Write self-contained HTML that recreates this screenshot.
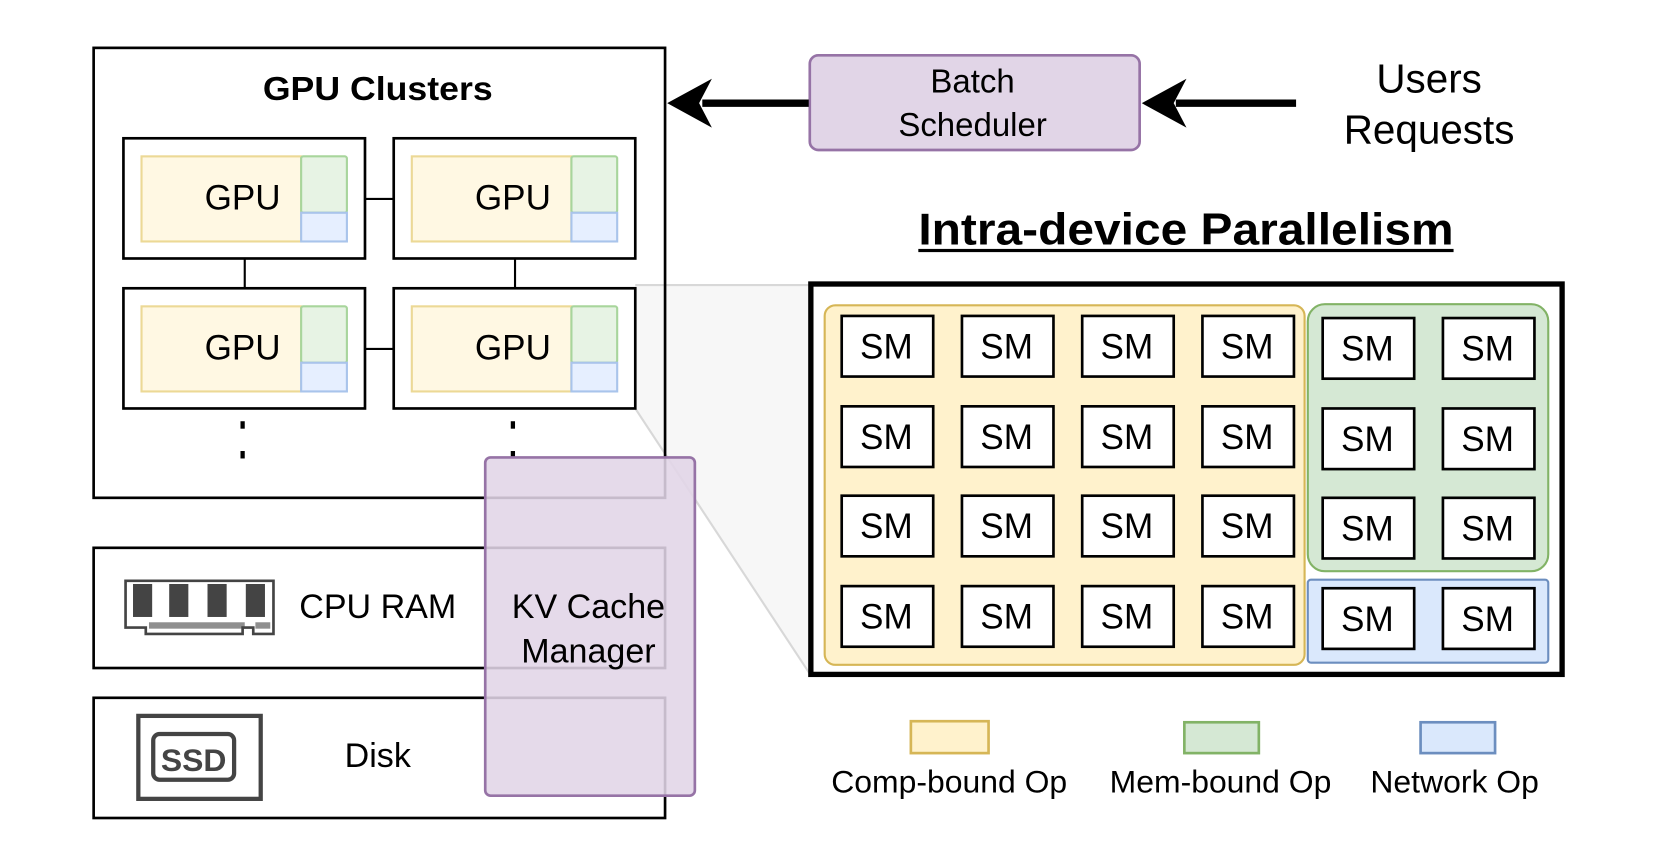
<!DOCTYPE html>
<html><head><meta charset="utf-8"><style>html,body{margin:0;padding:0;background:#fff}svg{display:block}text{font-family:"Liberation Sans",Arial,sans-serif}</style></head>
<body>
<svg width="1660" height="868" viewBox="0 0 1560 816" preserveAspectRatio="none" xmlns="http://www.w3.org/2000/svg">
<rect width="1560" height="816" fill="#fff"/>
<polygon points="597,268 762,268 762,635 597,384" fill="#f4f4f4" opacity="0.7"/>
<line x1="597" y1="268" x2="762" y2="268" stroke="#d8d8d8" stroke-width="2"/>
<line x1="597" y1="384" x2="762" y2="635" stroke="#d8d8d8" stroke-width="2"/>
<rect x="88" y="45" width="537" height="423" fill="none" stroke="#000" stroke-width="2.5"/>
<text x="247" y="94" font-size="31" font-weight="bold" textLength="216" lengthAdjust="spacingAndGlyphs">GPU Clusters</text>
<g stroke="#000" stroke-width="2">
<line x1="343" y1="187" x2="370" y2="187"/><line x1="343" y1="328" x2="370" y2="328"/>
<line x1="230" y1="243" x2="230" y2="271"/><line x1="484" y1="243" x2="484" y2="271"/>
</g>
<g id="g1">
<rect x="116" y="130" width="227" height="113" fill="#fff" stroke="#000" stroke-width="2.5"/>
<rect x="133" y="147" width="150" height="80" fill="#fff8e3" stroke="#ecd996" stroke-width="2"/>
<rect x="283" y="147" width="43" height="53" fill="#e7f3e4" stroke="#a8d59c" stroke-width="2" rx="2"/>
<rect x="283" y="200" width="43" height="27" fill="#e6efff" stroke="#a9c4eb" stroke-width="2"/>
<text x="228" y="197" font-size="33" text-anchor="middle">GPU</text>
</g>
<use href="#g1" x="254" y="0"/><use href="#g1" x="0" y="141"/><use href="#g1" x="254" y="141"/>
<g fill="#000"><rect x="226" y="396" width="4" height="7"/><rect x="226" y="424" width="4" height="7"/><rect x="480" y="396" width="4" height="7"/><rect x="480" y="424" width="4" height="7"/></g>
<rect x="88" y="515" width="537" height="113" fill="#fff" stroke="#000" stroke-width="2.5"/>
<rect x="88" y="656" width="537" height="113" fill="#fff" stroke="#000" stroke-width="2.5"/>
<path d="M118,546 H257 V596 H238 V590 H228 V596 H137 V590 H118 Z" fill="none" stroke="#444" stroke-width="2.5"/>
<g fill="#444"><rect x="125" y="549" width="18" height="31"/><rect x="159" y="549" width="18" height="31"/><rect x="195" y="549" width="18" height="31"/><rect x="231" y="549" width="18" height="31"/>
<rect x="140" y="585" width="90" height="6" opacity="0.6"/><rect x="240" y="585" width="14" height="6" opacity="0.6"/></g>
<text x="355" y="581" font-size="32" text-anchor="middle">CPU RAM</text>
<rect x="130" y="673" width="115" height="78" fill="none" stroke="#444" stroke-width="4"/>
<rect x="144" y="690" width="76" height="43" rx="6" fill="none" stroke="#444" stroke-width="4"/>
<text x="182" y="725" font-size="30" font-weight="bold" fill="#444" text-anchor="middle">SSD</text>
<text x="355" y="721" font-size="32" text-anchor="middle">Disk</text>
<rect x="456" y="430" width="197" height="318" rx="5" fill="#e1d5e7" fill-opacity="0.88" stroke="#9673a6" stroke-width="2.5"/>
<text x="553" y="581" font-size="32" text-anchor="middle">KV Cache</text>
<text x="553" y="623" font-size="32" text-anchor="middle">Manager</text>
<rect x="761" y="52" width="310" height="89" rx="8" fill="#e1d5e7" stroke="#9673a6" stroke-width="2.5"/>
<text x="914" y="87" font-size="31" text-anchor="middle">Batch</text>
<text x="914" y="128" font-size="31" text-anchor="middle">Scheduler</text>
<line x1="1218" y1="97" x2="1105" y2="97" stroke="#000" stroke-width="7"/>
<path d="M1073,97 L1115,74 L1103,97 L1115,120 Z" fill="#000"/>
<line x1="760" y1="97" x2="660" y2="97" stroke="#000" stroke-width="7"/>
<path d="M627,97 L669,74 L657,97 L669,120 Z" fill="#000"/>
<text x="1343" y="87" font-size="38" text-anchor="middle">Users</text>
<text x="1343" y="135" font-size="38" text-anchor="middle">Requests</text>
<text x="863" y="230" font-size="42" font-weight="bold" textLength="503" lengthAdjust="spacingAndGlyphs">Intra-device Parallelism</text>
<rect x="863" y="234" width="503" height="3" fill="#000"/>
<rect x="762" y="267" width="706" height="367" fill="#fff" stroke="#000" stroke-width="5"/>
<rect x="775" y="287" width="451" height="338" rx="10" fill="#fff2cc" stroke="#d6b656" stroke-width="2"/>
<rect x="1229" y="286" width="226" height="251" rx="16" fill="#d5e8d4" stroke="#82b366" stroke-width="2"/>
<rect x="1229" y="545" width="226" height="78" rx="3" fill="#dae8fc" stroke="#6c8ebf" stroke-width="2"/>
<g id="sm"><rect x="791" y="297" width="86" height="57" fill="#fff" stroke="#000" stroke-width="2.5"/><text x="833" y="337" font-size="33" text-anchor="middle">SM</text></g>
<use href="#sm" x="113"/><use href="#sm" x="226"/><use href="#sm" x="339"/>
<use href="#sm" y="85"/><use href="#sm" x="113" y="85"/><use href="#sm" x="226" y="85"/><use href="#sm" x="339" y="85"/>
<use href="#sm" y="169"/><use href="#sm" x="113" y="169"/><use href="#sm" x="226" y="169"/><use href="#sm" x="339" y="169"/>
<use href="#sm" y="254"/><use href="#sm" x="113" y="254"/><use href="#sm" x="226" y="254"/><use href="#sm" x="339" y="254"/>
<use href="#sm" x="452" y="2"/><use href="#sm" x="565" y="2"/>
<use href="#sm" x="452" y="87"/><use href="#sm" x="565" y="87"/>
<use href="#sm" x="452" y="171"/><use href="#sm" x="565" y="171"/>
<use href="#sm" x="452" y="256"/><use href="#sm" x="565" y="256"/>
<rect x="856" y="678" width="73" height="30" fill="#fff2cc" stroke="#d6b656" stroke-width="2.5"/>
<rect x="1113" y="679" width="70" height="29" fill="#d5e8d4" stroke="#82b366" stroke-width="2.5"/>
<rect x="1335" y="679" width="70" height="29" fill="#dae8fc" stroke="#6c8ebf" stroke-width="2.5"/>
<text x="892" y="745" font-size="30" text-anchor="middle">Comp-bound Op</text>
<text x="1147" y="745" font-size="30" text-anchor="middle">Mem-bound Op</text>
<text x="1367" y="745" font-size="30" text-anchor="middle">Network Op</text>
</svg>
</body></html>
